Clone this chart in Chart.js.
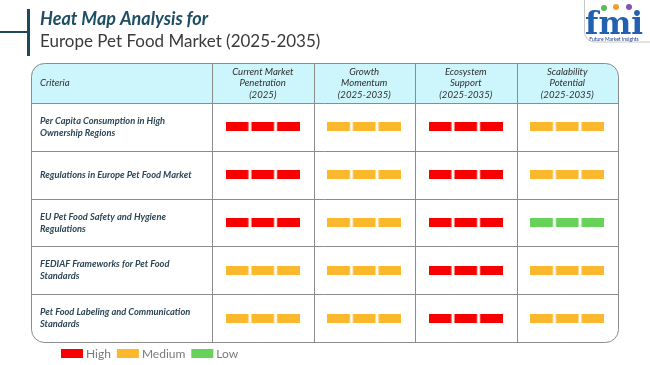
<!DOCTYPE html>
<html>
<head>
<meta charset="utf-8">
<script src="https://cdn.jsdelivr.net/npm/chart.js@4.4.1/dist/chart.umd.min.js"></script>
<style>
  html, body { margin: 0; padding: 0; background: #ffffff; }
  canvas { display: block; }
</style>
</head>
<body>
<canvas id="c" width="650" height="365"></canvas>
<script>
// ---------- data ----------
const titleLine1 = "Heat Map Analysis for";
const titleLine2 = "Europe Pet Food Market (2025-2035)";
const criteriaHeader = "Criteria";
const columnKeys = ["Current Market Penetration (2025)", "Growth Momentum (2025-2035)", "Ecosystem Support (2025-2035)", "Scalability Potential (2025-2035)"];
const columnLines = [
  ["Current Market", "Penetration", "(2025)"],
  ["Growth", "Momentum", "(2025-2035)"],
  ["Ecosystem", "Support", "(2025-2035)"],
  ["Scalability", "Potential", "(2025-2035)"]
];
const rowKeys = [
  "Per Capita Consumption in High Ownership Regions",
  "Regulations in Europe Pet Food Market",
  "EU Pet Food Safety and Hygiene Regulations",
  "FEDIAF Frameworks for Pet Food Standards",
  "Pet Food Labeling and Communication Standards"
];
const rowLines = [
  ["Per Capita Consumption in High", "Ownership Regions"],
  ["Regulations in Europe Pet Food Market"],
  ["EU Pet Food Safety and Hygiene", "Regulations"],
  ["FEDIAF Frameworks for Pet Food", "Standards"],
  ["Pet Food Labeling and Communication", "Standards"]
];
const levels = ["High", "Medium", "Low"];
const levelColors = ["#f80000", "#fbb82c", "#66d25a"];
// ratings[row][column]
const ratings = [
  ["High",   "Medium", "High", "Medium"],
  ["High",   "Medium", "High", "Medium"],
  ["High",   "Medium", "High", "Low"],
  ["Medium", "Medium", "High", "Medium"],
  ["Medium", "Medium", "High", "Medium"]
];

// ---------- glyph: three segments per cell ----------
function makeGlyph(color) {
  const cv = document.createElement('canvas');
  cv.width = 74; cv.height = 9;
  const g = cv.getContext('2d');
  g.fillStyle = color;
  const segW = 22.7, gap = 2.95;
  for (let i = 0; i < 3; i++) g.fillRect(i * (segW + gap), 0, segW, 9);
  return cv;
}

const datasets = levels.map((lvl, li) => {
  const pts = [];
  ratings.forEach((row, ri) => row.forEach((r, ci) => {
    if (r === lvl) pts.push({ x: columnKeys[ci], y: rowKeys[ri] });
  }));
  return {
    label: lvl,
    data: pts,
    backgroundColor: levelColors[li],
    borderColor: levelColors[li],
    pointStyle: makeGlyph(levelColors[li]),
    pointRadius: 10,
    pointHoverRadius: 10
  };
});

const FONT = 'Lato, "Open Sans", sans-serif';

function roundRectPath(ctx, x, y, w, h, r) {
  ctx.beginPath();
  ctx.moveTo(x + r, y);
  ctx.lineTo(x + w - r, y);
  ctx.arcTo(x + w, y, x + w, y + r, r);
  ctx.lineTo(x + w, y + h - r);
  ctx.arcTo(x + w, y + h, x + w - r, y + h, r);
  ctx.lineTo(x + r, y + h);
  ctx.arcTo(x, y + h, x, y + h - r, r);
  ctx.lineTo(x, y + r);
  ctx.arcTo(x, y, x + r, y, r);
  ctx.closePath();
}

const tablePlugin = {
  id: 'tablePlugin',
  beforeDraw(chart) {
    const ctx = chart.ctx;
    ctx.save();
    ctx.fillStyle = '#ffffff';
    ctx.fillRect(0, 0, chart.width, chart.height);

    // title decoration
    ctx.fillStyle = '#1b4a5c';
    ctx.fillRect(27, 9, 3, 47);
    ctx.fillRect(0, 31, 28, 2);
    ctx.textBaseline = 'alphabetic';
    ctx.textAlign = 'left';
    ctx.fillStyle = '#1d4e63';
    ctx.font = 'italic bold 18px ' + FONT;
    ctx.fillText(titleLine1, 40, 25);
    ctx.fillStyle = '#3a3a3a';
    ctx.font = '17px ' + FONT;
    ctx.fillText(titleLine2, 40, 47);

    // logo
    ctx.strokeStyle = '#c8c8c8';
    ctx.lineWidth = 1;
    roundRectPath(ctx, 584.5, -12, 80, 54, 10);
    ctx.stroke();
    ctx.fillStyle = '#2260b0';
    ctx.font = 'bold 31px "DejaVu Serif", "Liberation Serif", serif';
    ctx.textAlign = 'center';
    ctx.fillText('fmi', 614, 34);
    const dots = [[604, 8, '#5cb85c'], [616, 7, '#f0a030'], [629, 7, '#8a4fb5']];
    dots.forEach(d => { ctx.fillStyle = d[2]; ctx.beginPath(); ctx.arc(d[0], d[1], 3, 0, Math.PI * 2); ctx.fill(); });
    ctx.fillStyle = '#1f3f80';
    ctx.font = '5px ' + FONT;
    ctx.fillText('Future Market Insights', 614, 41);
    ctx.restore();
  },
  beforeDatasetsDraw(chart) {
    const ctx = chart.ctx;
    const xs = chart.scales.x, ys = chart.scales.y;
    const ca = chart.chartArea;
    const left = 31, right = ca.right, top = 63, bottom = ca.bottom, headerBottom = ca.top;
    ctx.save();

    // header fill
    roundRectPath(ctx, left, top, right - left, bottom - top, 13);
    ctx.save();
    ctx.clip();
    ctx.fillStyle = '#cdf6fc';
    ctx.fillRect(left, top, right - left, headerBottom - top);
    ctx.restore();

    // grid lines
    ctx.strokeStyle = '#8c8c8c';
    ctx.lineWidth = 1;
    ctx.beginPath();
    ctx.moveTo(left, headerBottom + 0.5); ctx.lineTo(right, headerBottom + 0.5);
    for (let i = 0; i < rowKeys.length - 1; i++) {
      const yb = Math.round((ys.getPixelForValue(i) + ys.getPixelForValue(i + 1)) / 2) + 0.5;
      ctx.moveTo(left, yb); ctx.lineTo(right, yb);
    }
    ctx.moveTo(Math.round(ca.left) + 0.5, top); ctx.lineTo(Math.round(ca.left) + 0.5, bottom);
    for (let i = 0; i < columnKeys.length - 1; i++) {
      const xb = Math.round((xs.getPixelForValue(i) + xs.getPixelForValue(i + 1)) / 2) + 0.5;
      ctx.moveTo(xb, top); ctx.lineTo(xb, bottom);
    }
    ctx.stroke();

    // outer border
    ctx.strokeStyle = '#8c8c8c';
    roundRectPath(ctx, left + 0.5, top + 0.5, right - left, bottom - top, 13);
    ctx.stroke();

    // header text
    ctx.fillStyle = '#2e2e2e';
    ctx.textBaseline = 'middle';
    ctx.textAlign = 'left';
    ctx.font = 'italic 9.6px ' + FONT;
    const hMid = (top + headerBottom) / 2;
    ctx.fillText(criteriaHeader, 40, hMid);
    ctx.textAlign = 'center';
    columnLines.forEach((lines, ci) => {
      const cx = xs.getPixelForValue(ci);
      lines.forEach((t, li) => {
        ctx.fillText(t, cx, hMid + (li - (lines.length - 1) / 2) * 11.5);
      });
    });

    // row labels
    ctx.textAlign = 'left';
    ctx.fillStyle = '#2c4656';
    ctx.font = 'italic bold 9.3px ' + FONT;
    rowLines.forEach((lines, ri) => {
      const cy = ys.getPixelForValue(ri);
      lines.forEach((t, li) => {
        ctx.fillText(t, 40, cy + (li - (lines.length - 1) / 2) * 12);
      });
    });

    // legend
    let lx = 61;
    const ly = 349;
    ctx.font = '12px ' + FONT;
    ctx.textBaseline = 'middle';
    chart.data.datasets.forEach(ds => {
      ctx.fillStyle = ds.backgroundColor;
      ctx.fillRect(lx, ly, 22, 9);
      ctx.fillStyle = '#7a7a7a';
      ctx.fillText(ds.label, lx + 25, ly + 5);
      lx += 25 + ctx.measureText(ds.label).width + 6;
    });

    ctx.restore();
  }
};

new Chart(document.getElementById('c'), {
  type: 'scatter',
  data: { datasets },
  options: {
    responsive: false,
    devicePixelRatio: 1,
    animation: false,
    events: [],
    layout: { padding: { left: 212, right: 32, top: 103, bottom: 23 } },
    plugins: { legend: { display: false }, tooltip: { enabled: false }, title: { display: false } },
    scales: {
      x: { type: 'category', labels: columnKeys, offset: true, display: false },
      y: { type: 'category', labels: rowKeys, offset: true, display: false }
    }
  },
  plugins: [tablePlugin]
});
</script>
</body>
</html>
